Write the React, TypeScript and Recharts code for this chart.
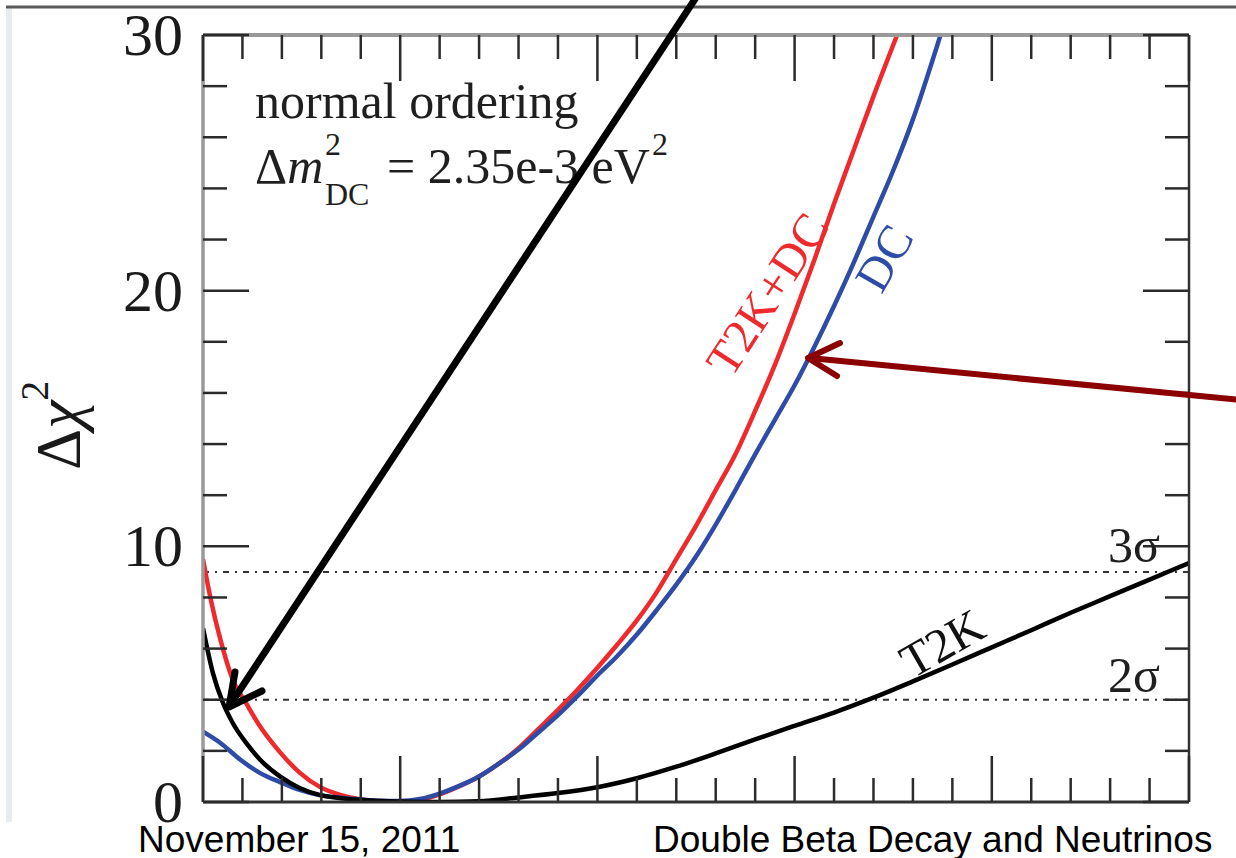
import { LineChart, Line, XAxis, YAxis, ReferenceLine } from "recharts";

/** Chart size matches the slide crop. */
const WIDTH = 1236;
const HEIGHT = 858;

const SERIF = "'Liberation Serif', 'Times New Roman', serif";
const SANS = "'Liberation Sans', Arial, sans-serif";

const RED = "#ee2a2c";
const BLUE = "#2e4ca6";

// sin^2(2θ13) axis (labels are cut off in the slide), minor every 0.02
const X_TICKS = [
  0, 0.02, 0.04, 0.06, 0.08, 0.1, 0.12, 0.14, 0.16, 0.18, 0.2, 0.22, 0.24, 0.26,
  0.28, 0.3, 0.32, 0.34, 0.36, 0.38, 0.4, 0.42, 0.44, 0.46, 0.48, 0.5,
];
const Y_TICKS = [0, 2, 4, 6, 8, 10, 12, 14, 16, 18, 20, 22, 24, 26, 28, 30];
const Y_LABELS = [0, 10, 20, 30];

// Δχ² levels for 2σ and 3σ
const SIGMA_LEVELS = [4, 9];

type Pt = { x: number; y: number };

// T2K+DC (red)
const t2kDcCurve: Pt[] = [
  { x: 0, y: 9.5 }, { x: 0.004, y: 7.9 }, { x: 0.009, y: 6.3 }, { x: 0.015, y: 4.8 },
  { x: 0.022, y: 3.85 }, { x: 0.029, y: 2.95 }, { x: 0.039, y: 1.95 }, { x: 0.049, y: 1.15 },
  { x: 0.059, y: 0.6 }, { x: 0.07, y: 0.27 }, { x: 0.08, y: 0.1 }, { x: 0.09, y: 0.02 },
  { x: 0.1, y: 0 }, { x: 0.11, y: 0.08 }, { x: 0.12, y: 0.3 }, { x: 0.13, y: 0.62 },
  { x: 0.14, y: 1.0 }, { x: 0.15, y: 1.5 }, { x: 0.16, y: 2.1 }, { x: 0.17, y: 2.85 },
  { x: 0.18, y: 3.6 }, { x: 0.19, y: 4.4 }, { x: 0.2, y: 5.25 }, { x: 0.21, y: 6.15 },
  { x: 0.22, y: 7.1 }, { x: 0.23, y: 8.2 }, { x: 0.24, y: 9.5 }, { x: 0.25, y: 10.8 },
  { x: 0.26, y: 12.2 }, { x: 0.27, y: 13.6 }, { x: 0.28, y: 15.3 }, { x: 0.29, y: 17.1 },
  { x: 0.3, y: 19.1 }, { x: 0.31, y: 21.2 }, { x: 0.32, y: 23.4 }, { x: 0.33, y: 25.5 },
  { x: 0.34, y: 27.6 }, { x: 0.352, y: 30 },
];

// DC alone (blue)
const dcCurve: Pt[] = [
  { x: 0, y: 2.75 }, { x: 0.009, y: 2.3 }, { x: 0.019, y: 1.65 }, { x: 0.029, y: 1.13 },
  { x: 0.039, y: 0.78 }, { x: 0.049, y: 0.47 }, { x: 0.059, y: 0.27 }, { x: 0.07, y: 0.17 },
  { x: 0.08, y: 0.1 }, { x: 0.09, y: 0.05 }, { x: 0.1, y: 0.04 }, { x: 0.11, y: 0.12 },
  { x: 0.12, y: 0.33 }, { x: 0.13, y: 0.63 }, { x: 0.14, y: 1.0 }, { x: 0.15, y: 1.5 },
  { x: 0.16, y: 2.05 }, { x: 0.17, y: 2.72 }, { x: 0.18, y: 3.4 }, { x: 0.19, y: 4.15 },
  { x: 0.2, y: 4.95 }, { x: 0.21, y: 5.7 }, { x: 0.22, y: 6.55 }, { x: 0.23, y: 7.5 },
  { x: 0.24, y: 8.5 }, { x: 0.25, y: 9.6 }, { x: 0.26, y: 10.85 }, { x: 0.27, y: 12.2 },
  { x: 0.28, y: 13.6 }, { x: 0.29, y: 14.95 }, { x: 0.3, y: 16.3 }, { x: 0.31, y: 17.8 },
  { x: 0.32, y: 19.4 }, { x: 0.33, y: 21.1 }, { x: 0.34, y: 22.9 }, { x: 0.35, y: 24.7 },
  { x: 0.36, y: 26.7 }, { x: 0.374, y: 30 },
];

// T2K alone (black)
const t2kCurve: Pt[] = [
  { x: 0, y: 6.8 }, { x: 0.005, y: 5.05 }, { x: 0.01, y: 3.9 }, { x: 0.015, y: 3.1 },
  { x: 0.022, y: 2.3 }, { x: 0.029, y: 1.65 }, { x: 0.039, y: 1.0 }, { x: 0.049, y: 0.55 },
  { x: 0.059, y: 0.28 }, { x: 0.07, y: 0.15 }, { x: 0.08, y: 0.08 }, { x: 0.09, y: 0.04 },
  { x: 0.1, y: 0.02 }, { x: 0.12, y: 0 }, { x: 0.14, y: 0.03 }, { x: 0.16, y: 0.18 },
  { x: 0.18, y: 0.35 }, { x: 0.2, y: 0.58 }, { x: 0.22, y: 0.93 }, { x: 0.24, y: 1.38 },
  { x: 0.26, y: 1.9 }, { x: 0.28, y: 2.45 }, { x: 0.3, y: 2.98 }, { x: 0.32, y: 3.5 },
  { x: 0.34, y: 4.08 }, { x: 0.36, y: 4.72 }, { x: 0.38, y: 5.38 }, { x: 0.4, y: 6.05 },
  { x: 0.42, y: 6.72 }, { x: 0.44, y: 7.4 }, { x: 0.46, y: 8.05 }, { x: 0.48, y: 8.7 },
  { x: 0.5, y: 9.35 },
];

const isMajorX = (v: number) => Math.abs(v * 10 - Math.round(v * 10)) < 1e-6;
const isMajorY = (v: number) => v % 10 === 0;

const TICK_MINOR = 24;
const TICK_MAJOR = 46;
const TICK_COLOR = "#2b2b2b";

function BottomTick({ x, y, payload }: any) {
  const len = isMajorX(payload.value) ? TICK_MAJOR : TICK_MINOR;
  return <line x1={x} x2={x} y1={y} y2={y - len} stroke={TICK_COLOR} strokeWidth={2.5} />;
}

function TopTick({ x, y, payload }: any) {
  const len = isMajorX(payload.value) ? TICK_MAJOR : TICK_MINOR;
  return <line x1={x} x2={x} y1={y} y2={y + len} stroke={TICK_COLOR} strokeWidth={2.5} />;
}

function LeftTick({ x, y, payload }: any) {
  const major = isMajorY(payload.value);
  return (
    <g>
      <line
        x1={x}
        x2={x + (major ? TICK_MAJOR : TICK_MINOR)}
        y1={y}
        y2={y}
        stroke={TICK_COLOR}
        strokeWidth={2.5}
      />
      {Y_LABELS.includes(payload.value) && (
        <text
          x={x - 20}
          y={y}
          textAnchor="end"
          dominantBaseline="central"
          fontFamily={SERIF}
          fontSize={60}
          fill="#1a1a1a"
        >
          {payload.value}
        </text>
      )}
    </g>
  );
}

function RightTick({ x, y, payload }: any) {
  const len = isMajorY(payload.value) ? TICK_MAJOR : TICK_MINOR;
  return <line x1={x} x2={x - len} y1={y} y2={y} stroke={TICK_COLOR} strokeWidth={2.5} />;
}

function SlideOverlay() {
  return (
    <svg
      width={WIDTH}
      height={HEIGHT}
      style={{ position: "absolute", left: 0, top: 0, pointerEvents: "none" }}
    >
      {/* slide chrome */}
      <rect x={6} y={8} width={6} height={814} fill="#e8ecf0" />
      <line x1={6} y1={7} x2={WIDTH} y2={7} stroke="#595959" strokeWidth={3} />

      {/* in-plot annotation */}
      <g fontFamily={SERIF} fill="#1f1f1f">
        <text x={255} y={118} fontSize={50}>normal ordering</text>
        <text x={255} y={183} fontSize={50}>
          Δ<tspan fontStyle="italic">m</tspan>
        </text>
        <text x={325} y={155} fontSize={32}>2</text>
        <text x={325} y={205} fontSize={32}>DC</text>
        <text x={387} y={183} fontSize={50}>= 2.35e-3 eV</text>
        <text x={652} y={155} fontSize={32}>2</text>

        <text x={1108} y={562} fontSize={50}>3σ</text>
        <text x={1108} y={692} fontSize={50}>2σ</text>
      </g>

      {/* curve labels */}
      <text
        x={767}
        y={294}
        transform="rotate(-57 767 294)"
        textAnchor="middle"
        dominantBaseline="central"
        fontFamily={SERIF}
        fontSize={48}
        fill={RED}
      >
        T2K+DC
      </text>
      <text
        x={884}
        y={258}
        transform="rotate(-60 884 258)"
        textAnchor="middle"
        dominantBaseline="central"
        fontFamily={SERIF}
        fontSize={48}
        fill={BLUE}
      >
        DC
      </text>
      <text
        x={942}
        y={643}
        transform="rotate(-30 942 643)"
        textAnchor="middle"
        dominantBaseline="central"
        fontFamily={SERIF}
        fontSize={48}
        fill="#111"
      >
        T2K
      </text>

      {/* y axis title */}
      <text
        x={80}
        y={470}
        transform="rotate(-90 80 470)"
        fontFamily={SERIF}
        fontSize={64}
        fill="#1a1a1a"
      >
        Δ<tspan fontStyle="italic">χ</tspan>
        <tspan fontSize={40} dy={-32}>2</tspan>
      </text>

      {/* arrows drawn on the slide */}
      <g stroke="#000" strokeWidth={7} strokeLinecap="round" strokeLinejoin="round" fill="none">
        <line x1={697} y1={-4} x2={230} y2={705} />
        <polyline points="235,672 229,707 262,691" />
      </g>
      <g stroke="#8b0000" strokeWidth={6} strokeLinecap="round" strokeLinejoin="round" fill="none">
        <line x1={1240} y1={400} x2={810} y2={358} />
        <polyline points="840,343 808,358 837,376" />
      </g>

      {/* footer */}
      <g fontFamily={SANS} fontSize={37} fill="#000">
        <text x={138} y={852}>November 15, 2011</text>
        <text x={653} y={852}>Double Beta Decay and Neutrinos</text>
      </g>
    </svg>
  );
}

export default function App() {
  return (
    <div
      style={{
        position: "absolute",
        left: 0,
        top: 0,
        width: WIDTH,
        height: HEIGHT,
        background: "#fff",
        overflow: "hidden",
      }}
    >
      <LineChart width={WIDTH} height={HEIGHT} margin={{ top: 34, right: 46, bottom: 55, left: 0 }}>
        <XAxis
          type="number"
          dataKey="x"
          domain={[0, 0.5]}
          ticks={X_TICKS}
          interval={0}
          allowDataOverflow
          height={1}
          tickSize={0}
          tickMargin={0}
          tickLine={false}
          tick={BottomTick}
          axisLine={{ stroke: "#333", strokeWidth: 3 }}
        />
        <XAxis
          xAxisId="top"
          orientation="top"
          type="number"
          dataKey="x"
          domain={[0, 0.5]}
          ticks={X_TICKS}
          interval={0}
          allowDataOverflow
          height={1}
          tickSize={0}
          tickMargin={0}
          tickLine={false}
          tick={TopTick}
          axisLine={{ stroke: "#999", strokeWidth: 4 }}
        />
        <YAxis
          type="number"
          domain={[0, 30]}
          ticks={Y_TICKS}
          interval={0}
          allowDataOverflow
          width={203}
          tickSize={0}
          tickMargin={0}
          tickLine={false}
          tick={LeftTick}
          axisLine={{ stroke: "#999", strokeWidth: 3.5 }}
        />
        <YAxis
          yAxisId="right"
          orientation="right"
          type="number"
          domain={[0, 30]}
          ticks={Y_TICKS}
          interval={0}
          allowDataOverflow
          width={1}
          tickSize={0}
          tickMargin={0}
          tickLine={false}
          tick={RightTick}
          axisLine={{ stroke: "#333", strokeWidth: 2.5 }}
        />

        {SIGMA_LEVELS.map((level) => (
          <ReferenceLine
            key={level}
            y={level}
            stroke="#333"
            strokeWidth={2}
            strokeDasharray="6 6 2 6"
          />
        ))}

        <Line
          data={t2kDcCurve}
          dataKey="y"
          type="monotone"
          stroke={RED}
          strokeWidth={4.5}
          dot={false}
          isAnimationActive={false}
        />
        <Line
          data={dcCurve}
          dataKey="y"
          type="monotone"
          stroke={BLUE}
          strokeWidth={4.5}
          dot={false}
          isAnimationActive={false}
        />
        <Line
          data={t2kCurve}
          dataKey="y"
          type="monotone"
          stroke="#000"
          strokeWidth={4.5}
          dot={false}
          isAnimationActive={false}
        />
      </LineChart>
      <SlideOverlay />
    </div>
  );
}
